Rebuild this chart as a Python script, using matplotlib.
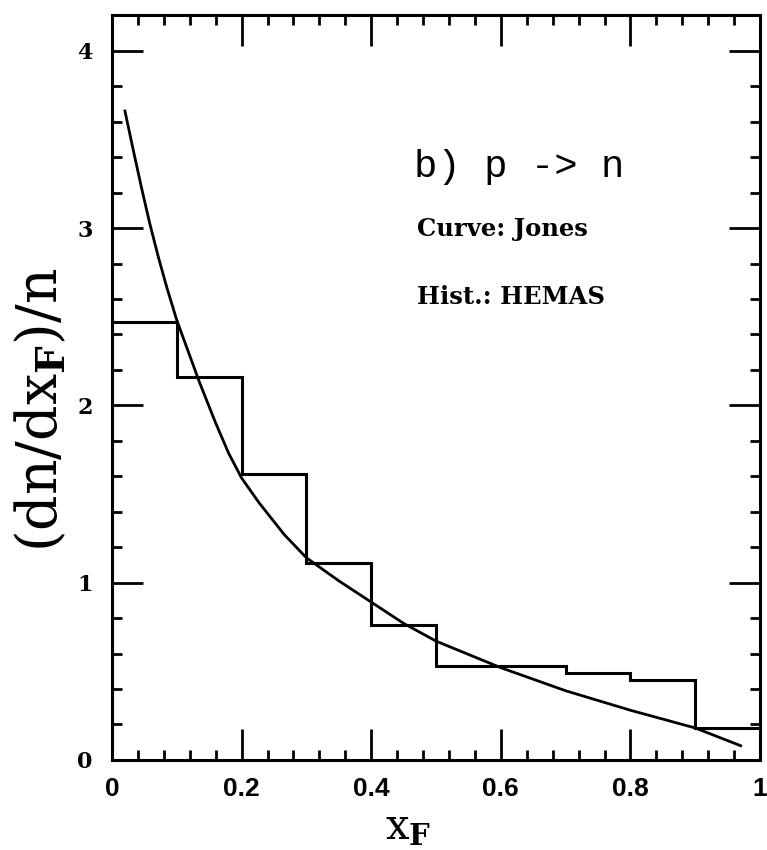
import matplotlib.pyplot as plt
from matplotlib.ticker import MultipleLocator

plt.rcParams['mathtext.fontset'] = 'dejavuserif'

# histogram (HEMAS), bins of 0.1 in x_F
bin_edges = [0.0, 0.1, 0.2, 0.3, 0.4, 0.5, 0.6, 0.7, 0.8, 0.9, 1.0]
hist_values = [2.47, 2.16, 1.61, 1.11, 0.76, 0.53, 0.53, 0.49, 0.45, 0.18]

# curve (Jones)
curve_x = [0.02, 0.034, 0.046, 0.058, 0.072, 0.085, 0.10, 0.12, 0.135, 0.16, 0.18,
           0.20, 0.227, 0.266, 0.30, 0.35, 0.40, 0.45, 0.50, 0.60, 0.70, 0.80, 0.90, 0.97]
curve_y = [3.66, 3.42, 3.22, 3.03, 2.83, 2.66, 2.48, 2.28, 2.13, 1.90, 1.73,
           1.59, 1.45, 1.27, 1.14, 1.01, 0.89, 0.77, 0.67, 0.52, 0.39, 0.28, 0.18, 0.08]

fig = plt.figure(figsize=(7.67, 8.5), dpi=100)
ax = fig.add_axes([0.146, 0.106, 0.845, 0.876])

ax.stairs(hist_values, bin_edges, color='black', linewidth=2.2)
ax.plot(curve_x, curve_y, color='black', linewidth=2.0)

ax.set_xlim(0, 1)
ax.set_ylim(0, 4.2)
ax.xaxis.set_minor_locator(MultipleLocator(0.04))
ax.yaxis.set_major_locator(MultipleLocator(1))
ax.yaxis.set_minor_locator(MultipleLocator(0.2))
ax.set_xticks([0, 0.2, 0.4, 0.6, 0.8, 1.0])
ax.set_xticklabels(['0', '0.2', '0.4', '0.6', '0.8', '1'])

ax.tick_params(which='both', direction='in', top=True, right=True, width=2)
ax.tick_params(which='major', length=22)
ax.tick_params(which='minor', length=7)
ax.tick_params(axis='x', pad=12)
ax.tick_params(axis='y', pad=14)
for lab in ax.get_xticklabels():
    lab.set_fontfamily('Liberation Sans')
    lab.set_fontweight('bold')
    lab.set_fontsize(19)
for lab in ax.get_yticklabels():
    lab.set_fontfamily('DejaVu Serif')
    lab.set_fontweight('bold')
    lab.set_fontsize(16)
for sp in ax.spines.values():
    sp.set_linewidth(2.2)

ax.set_ylabel(r'(dn/dx$_\mathbf{F}$)/n', family='DejaVu Serif', fontsize=40)
ax.yaxis.set_label_coords(-0.066, 0.47)
ax.set_xlabel(r'x$_\mathbf{F}$', family='DejaVu Serif', fontsize=30)
ax.xaxis.set_label_coords(0.457, -0.062)

ax.text(0.466, 0.783, 'b) p -> n', transform=ax.transAxes, family='Liberation Mono', fontsize=28)
ax.text(0.471, 0.703, 'Curve: Jones', transform=ax.transAxes, family='DejaVu Serif',
        fontweight='bold', fontsize=17.5)
ax.text(0.471, 0.612, 'Hist.: HEMAS', transform=ax.transAxes, family='DejaVu Serif',
        fontweight='bold', fontsize=17.5)

plt.savefig('out.png', dpi=100)
